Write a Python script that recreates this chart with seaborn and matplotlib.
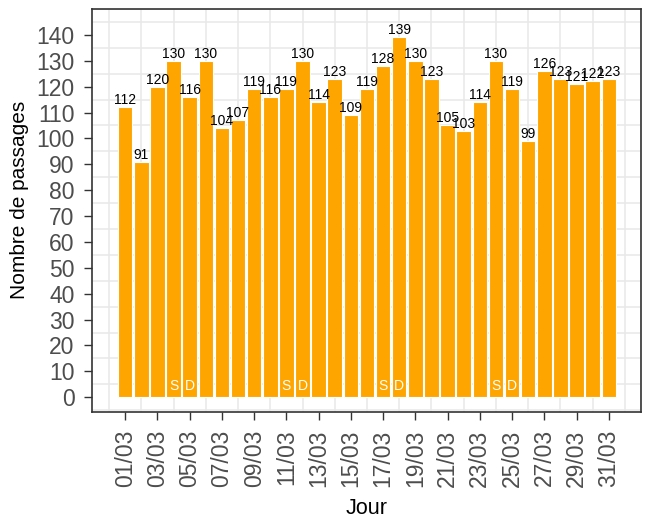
import matplotlib
matplotlib.use("Agg")
import matplotlib.pyplot as plt
import seaborn as sns
import pandas as pd
import numpy as np

# ---- data ----
jours = [f"{d:02d}/03" for d in range(1, 32)]
passages = [112, 91, 120, 130, 116, 130, 104, 107, 119, 116,
            119, 130, 114, 123, 109, 119, 128, 139, 130, 123,
            105, 103, 114, 130, 119, 99, 126, 123, 121, 122, 123]
weekend = ["", "", "", "S", "D", "", "", "", "", "",
           "S", "D", "", "", "", "", "S", "D", "", "",
           "", "", "", "S", "D", "", "", "", "", "", ""]
yticks = list(range(0, 141, 10))

df = pd.DataFrame({"Jour": jours, "Passages": passages, "WE": weekend})

sns.set_theme(style="white")
plt.rcParams["font.family"] = ["Liberation Sans", "DejaVu Sans"]

fig = plt.figure(figsize=(6.51, 5.2), dpi=100)
ax = fig.add_axes([92/651, 1-412/520, (641-92)/651, (412-9)/520])

sns.barplot(data=df, x="Jour", y="Passages", color="#FFA500", saturation=1,
            width=0.9, edgecolor="white", linewidth=0.8, ax=ax, zorder=3)

# value labels
ax.bar_label(ax.containers[0], labels=[str(v) for v in passages],
             padding=0, fontsize=10, color="black", zorder=4)

# weekend markers
for i, w in enumerate(df["WE"]):
    if w:
        ax.text(i, 4.5, w, ha="center", va="center", color="white",
                fontsize=10, zorder=5)

# limits
ax.set_xlim(-2.06, 31.15)
ax.set_ylim(-5.7, 150)

# grid
ax.set_axisbelow(True)
ax.set_xticks(np.arange(-1, 33), minor=True)
ax.set_yticks(np.arange(-5, 151, 5), minor=True)
ax.grid(which="minor", color="#E8E8E8", linewidth=1.1, zorder=0)
ax.tick_params(which="minor", length=0)

# ticks
xt = list(range(0, 31, 2))
ax.set_xticks(xt)
ax.set_xticklabels([jours[i] for i in xt], rotation=90)
ax.set_yticks(yticks)
ax.set_yticklabels([str(v) for v in yticks])
ax.tick_params(axis="both", which="major", direction="out", length=5.5,
               width=1.0, color="#333333", labelcolor="#4D4D4D",
               labelsize=16.5)
ax.tick_params(axis="x", which="major", pad=7)
ax.tick_params(axis="y", which="major", pad=7)
ax.yaxis.set_ticks_position("left")
ax.xaxis.set_ticks_position("bottom")

for s in ax.spines.values():
    s.set_color("#333333")
    s.set_linewidth(1.2)
    s.set_visible(True)

ax.set_xlabel("Jour", fontsize=15.5, color="black")
ax.set_ylabel("Nombre de passages", fontsize=15, color="black")
ax.xaxis.set_label_coords(0.5, -0.213)
ax.yaxis.set_label_coords(-0.115, 0.526)
ax.xaxis.label.set_va("top")

fig.savefig("out.png", dpi=100)
